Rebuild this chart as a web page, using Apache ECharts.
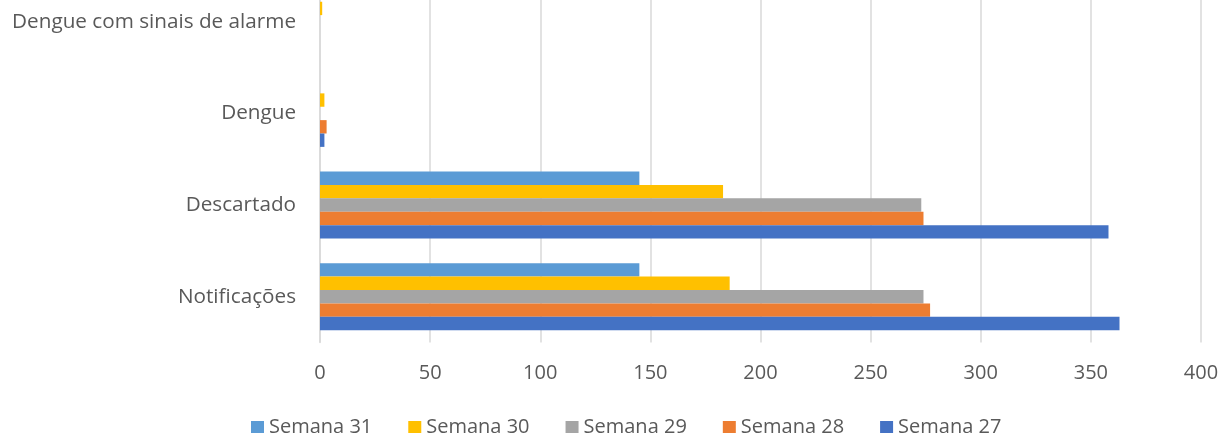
<!DOCTYPE html>
<html>
<head>
<meta charset="utf-8">
<script src="https://cdn.jsdelivr.net/npm/echarts@6/dist/echarts.min.js"></script>
<style>html,body{margin:0;padding:0;background:#fff;overflow:hidden}#wrap{width:1229px;height:436px;overflow:hidden;position:relative}#c{width:1229px;height:470px;position:absolute;left:0;top:-24px}</style>
</head>
<body>
<div id="wrap"><div id="c"></div></div>
<script>
const categories = ['Notificações', 'Descartado', 'Dengue', 'Dengue com sinais de alarme'];
const semana27 = [363, 358, 2, 0];
const semana28 = [277, 274, 3, 0];
const semana29 = [274, 273, 0, 0];
const semana30 = [186, 183, 2, 1];
const semana31 = [145, 145, 0, 0];
const xTicks = { min: 0, max: 400, interval: 50 };
const legendOrder = ['Semana 31', 'Semana 30', 'Semana 29', 'Semana 28', 'Semana 27'];

// first series is drawn at the top of each category band
const seriesDefs = [
  { name: 'Semana 31', data: semana31, color: '#5B9BD5' },
  { name: 'Semana 30', data: semana30, color: '#FFC000' },
  { name: 'Semana 29', data: semana29, color: '#A5A5A5' },
  { name: 'Semana 28', data: semana28, color: '#ED7D31' },
  { name: 'Semana 27', data: semana27, color: '#4472C4' }
];

const font = '"Open Sans", "Noto Sans", sans-serif';
const chart = echarts.init(document.getElementById('c'), null, { renderer: 'canvas' });
chart.setOption({
  animation: false,
  backgroundColor: '#fff',
  grid: { left: 320, right: 28, top: 0, bottom: 103.5, containLabel: false },
  legend: {
    data: legendOrder,
    left: 246,
    top: 436,
    itemWidth: 13,
    itemHeight: 12,
    itemGap: 36,
    icon: 'rect',
    textStyle: { fontFamily: font, fontSize: 20, color: '#595959' }
  },
  xAxis: {
    type: 'value',
    min: xTicks.min, max: xTicks.max, interval: xTicks.interval,
    axisLine: { show: false },
    axisTick: { show: false },
    splitLine: { lineStyle: { color: '#d9d9d9', width: 1.5 } },
    axisLabel: { fontFamily: font, fontSize: 20, color: '#595959', margin: 21 }
  },
  yAxis: {
    type: 'category',
    data: categories,
    axisLine: { lineStyle: { color: '#d9d9d9', width: 1.5 } },
    axisTick: { show: false },
    axisLabel: { fontFamily: font, fontSize: 20.7, color: '#595959', margin: 24 }
  },
  series: seriesDefs.map(s => ({
    type: 'bar',
    name: s.name,
    data: s.data,
    barGap: '0%',
    barCategoryGap: '27%',
    itemStyle: { color: s.color }
  }))
});
</script>
</body>
</html>
